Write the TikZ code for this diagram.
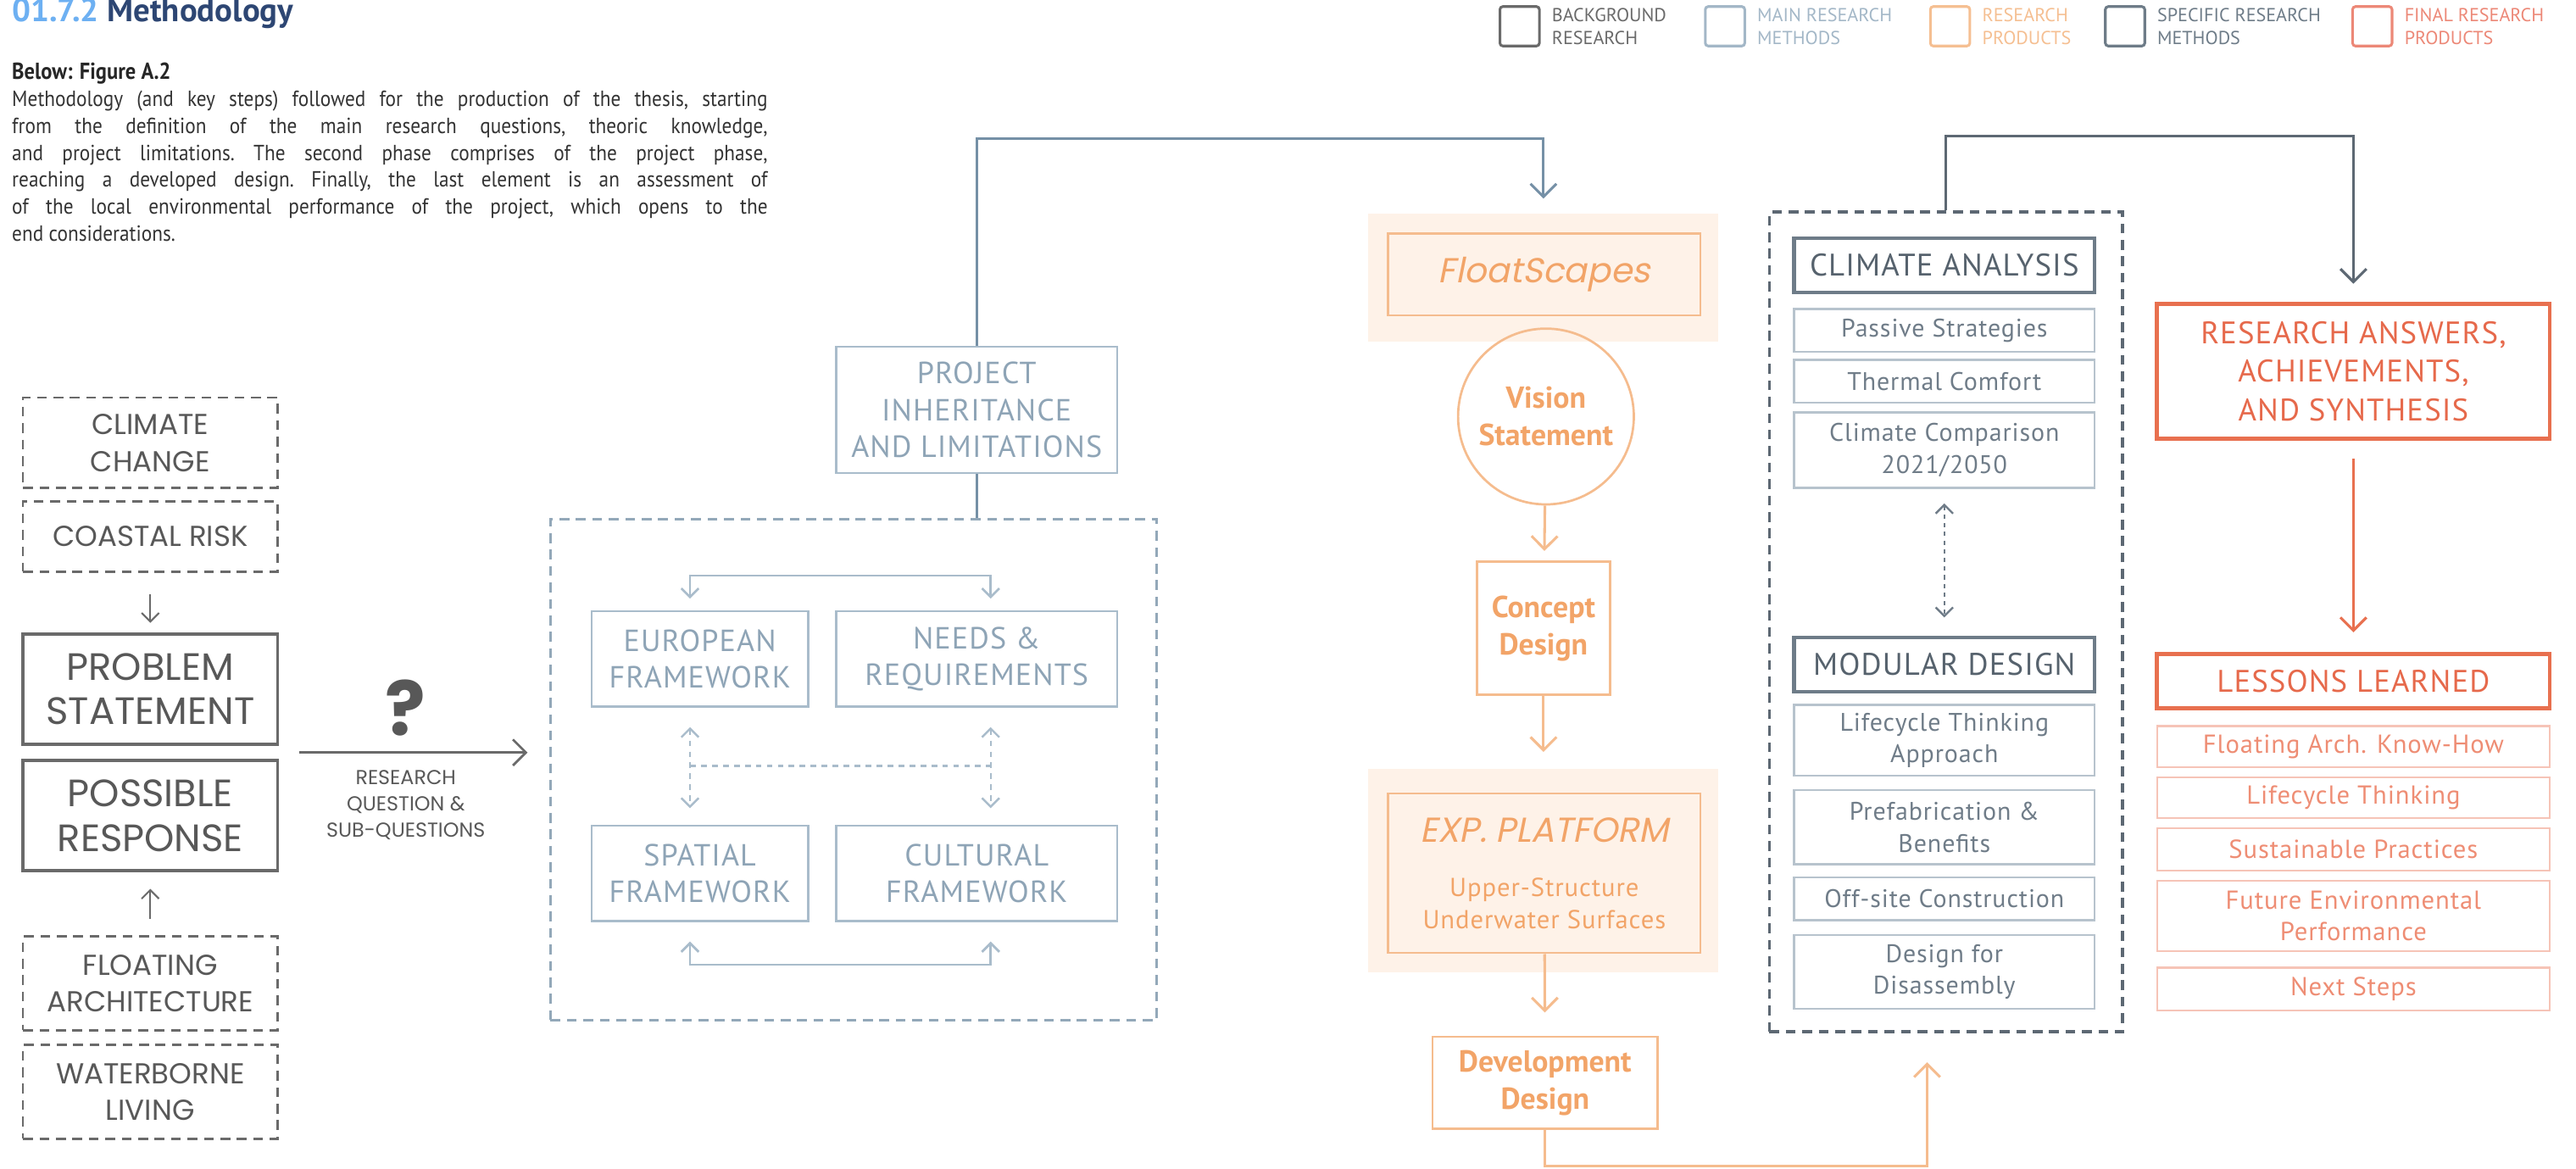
\documentclass[tikz,border=0pt]{standalone}
\usepackage{fontspec}
\setmainfont{PT Sans}
\newfontfamily\geo{Poppins}
\newfontfamily\geoit[FakeSlant=0.2]{Poppins}
\newfontfamily\din[LetterSpace=3]{PT Sans}
\newfontfamily\narrow[FakeStretch=0.9]{PT Sans}
\usetikzlibrary{arrows.meta,calc,positioning}

\definecolor{titlelight}{HTML}{6DB0F2}
\definecolor{titledark}{HTML}{2D4673}
\definecolor{bgline}{HTML}{6A6A6A}
\definecolor{bgtext}{HTML}{585858}
\definecolor{mmline}{HTML}{A9BCCB}
\definecolor{mmtext}{HTML}{8EA4B6}
\definecolor{mmdash}{HTML}{93A8B9}
\definecolor{mmconn}{HTML}{7590A6}
\definecolor{rpline}{HTML}{F5BC8E}
\definecolor{rptext}{HTML}{F2A468}
\definecolor{rpglow}{HTML}{FEF2E8}
\definecolor{srline}{HTML}{6E7C88}
\definecolor{srtext}{HTML}{56626D}
\definecolor{srsubline}{HTML}{B7C3CD}
\definecolor{srsubtext}{HTML}{6F7C88}
\definecolor{srdash}{HTML}{5D6873}
\definecolor{frline}{HTML}{E8704F}
\definecolor{frtext}{HTML}{E6694B}
\definecolor{frsubline}{HTML}{F6C4B7}
\definecolor{frsubtext}{HTML}{EE8D74}
\definecolor{legmm}{HTML}{A3B7C7}
\definecolor{legrp}{HTML}{F5BF92}
\definecolor{legfr}{HTML}{EC8877}

\begin{document}
\begin{tikzpicture}[x=0.02cm,y=-0.02cm,
        arr/.style={-{Straight Barb[length=4.5pt,width=9pt]}},
        sarr/.style={-{Straight Barb[length=3pt,width=6pt]}},
        dsarr/.style={{Straight Barb[length=3pt,width=6pt]}-{Straight Barb[length=3pt,width=6pt]}},
        legbox/.style={minimum width=24*\px,minimum height=24*\px,line width=0.9pt,rounded corners=1pt,inner sep=0pt},
        legtext/.style={inner sep=0pt,align=left,font=\fontsize{6.5}{8}\selectfont},
        bgdash/.style={draw=bgline,line width=0.8pt,dash pattern=on 3.4pt off 2.3pt,minimum width=155*\px,align=center,inner sep=0pt,text=bgtext,font=\geo\fontsize{10}{12.8}\selectfont},
        bgbox/.style={draw=bgline,line width=1.1pt,minimum width=155*\px,minimum height=67*\px,align=center,inner sep=0pt,text=bgtext,font=\geo\fontsize{13.2}{15.4}\selectfont},
        mmbox/.style={draw=mmline,line width=0.7pt,minimum height=58*\px,align=center,inner sep=0pt,text=mmtext,font=\din\fontsize{10.6}{12.7}\selectfont},
        rpbox/.style={draw=rpline,line width=0.8pt,align=center,inner sep=0pt,text=rptext},
        srhead/.style={draw=srline,line width=1.3pt,minimum width=183*\px,minimum height=33*\px,inner sep=0pt,text=srtext,font=\din\fontsize{10.8}{13}\selectfont},
        srsub/.style={draw=srsubline,line width=0.7pt,minimum width=183*\px,align=center,inner sep=0pt,text=srsubtext,font=\din\fontsize{8.8}{11}\selectfont},
        frhead/.style={draw=frline,line width=1.4pt,minimum width=239*\px,align=center,inner sep=0pt,text=frtext,font=\din\fontsize{10.8}{13.4}\selectfont},
        frsub/.style={draw=frsubline,line width=0.7pt,minimum width=239*\px,align=center,inner sep=0pt,text=frsubtext,font=\din\fontsize{9}{11}\selectfont}]
        \def\px{0.02cm}
        \useasboundingbox (0,0) rectangle (1568,711.5);

        \node[anchor=base west,inner sep=0pt,font=\bfseries\fontsize{11.4}{13}\selectfont] (title) at (7,13) {\textcolor{titlelight}{01.7.2} \textcolor{titledark}{Methodology}};
        \node[anchor=base west,inner sep=0pt,text=black!85,font=\bfseries\narrow\fontsize{8}{9}\selectfont] (figref) at (7,48) {Below: Figure A.2};
        \node[anchor=north west,inner sep=0pt,text width=9.2cm,align=justify,text=black!80,font=\narrow\fontsize{7.6}{9.3}\selectfont\frenchspacing] (caption) at (7,55) {Methodology (and key steps) followed for the production of the thesis, starting\linebreak from the definition of the main research questions, theoric knowledge,\linebreak and project limitations. The second phase comprises of the project phase,\linebreak reaching a developed design. Finally, the last element is an assessment of\linebreak of the local environmental performance of the project, which opens to the\linebreak end considerations.};

        \foreach \n/\x/\c/\tx in {bgr/925/bgline/{BACKGROUND\\RESEARCH},mrm/1050/legmm/{MAIN RESEARCH\\METHODS},rpr/1187/legrp/{RESEARCH\\PRODUCTS},srm/1293.5/srline/{SPECIFIC RESEARCH\\METHODS},frp/1444/legfr/{FINAL RESEARCH\\PRODUCTS}} {
          \node[legbox,draw=\c] (\n) at (\x,16) {};
          \node[legtext,text=\c,right=0.13cm of \n] (\n-l) {\tx};
        }

        \node[bgdash,minimum height=55*\px] (cc) at (91.5,269.5) {CLIMATE\\CHANGE};
        \node[bgdash,minimum height=43*\px] (cr) at (91.5,326.5) {COASTAL RISK};
        \node[bgbox] (ps) at (91.5,419.5) {PROBLEM\\STATEMENT};
        \node[bgbox] (pr) at (91.5,496.5) {POSSIBLE\\RESPONSE};
        \node[bgdash,minimum height=57*\px] (fa) at (91.5,598.5) {FLOATING\\ARCHITECTURE};
        \node[bgdash,minimum height=57*\px] (wl) at (91.5,664.5) {WATERBORNE\\LIVING};
        \draw[bgline,line width=0.6pt,sarr,shorten <=7.4pt,shorten >=3.4pt] (cr) -- (ps);
        \draw[bgline,line width=0.6pt,sarr,shorten <=5.7pt,shorten >=5.7pt] (fa) -- (pr);

        \node[draw=mmdash,line width=1pt,dash pattern=on 3.4pt off 2.3pt,minimum width=369*\px,minimum height=305*\px] (mm) at (519.5,468.5) {};
        \node[text=bgtext,font=\geo\bfseries\fontsize{26}{26}\selectfont] (qm) at (247,431) {?};
        \node[text=bgtext,align=center,font=\geo\fontsize{7}{9.1}\selectfont] (rq) at (247,490) {RESEARCH\\QUESTION \&\\SUB-QUESTIONS};
        \coordinate (rqa) at ($(ps.south east)!.5!(pr.north east)$);
        \draw[bgline,line width=0.8pt,arr,shorten <=6.8pt,shorten >=7.4pt] (rqa) -- (rqa -| mm.west);

        \node[mmbox,minimum width=171*\px,minimum height=77*\px] (pil) at (594.5,249.5) {PROJECT\\INHERITANCE\\AND LIMITATIONS};
        \node[mmbox,minimum width=132*\px] (ef) at (426,401) {EUROPEAN\\FRAMEWORK};
        \node[mmbox,minimum width=171*\px] (nr) at (594.5,401) {NEEDS \&\\REQUIREMENTS};
        \node[mmbox,minimum width=132*\px] (sf) at (426,531.5) {SPATIAL\\FRAMEWORK};
        \node[mmbox,minimum width=171*\px] (cf) at (594.5,531.5) {CULTURAL\\FRAMEWORK};
        \draw[mmconn,line width=0.9pt] (pil.south) -- (pil.south |- mm.north);
        \coordinate (topbar) at ($(ef.north)!.5!(nr.north)+(0,-21)$);
        \coordinate (botbar) at ($(sf.south)!.5!(cf.south)+(0,26)$);
        \coordinate (midbar) at ($(ef.south)!.5!(sf.north)+(-6,0)$);
        \draw[mmline,line width=0.8pt,sarr,shorten >=4pt] (topbar) -| ($(ef.north)+(-6,0)$);
        \draw[mmline,line width=0.8pt,sarr,shorten >=4pt] (topbar) -| ($(nr.north)+(8.5,0)$);
        \draw[mmline,line width=0.8pt,sarr,shorten >=6.8pt] (botbar) -| ($(sf.south)+(-6,0)$);
        \draw[mmline,line width=0.8pt,sarr,shorten >=6.8pt] (botbar) -| ($(cf.south)+(8.5,0)$);
        \draw[mmline,line width=0.7pt,dash pattern=on 2pt off 1.8pt,dsarr,shorten <=6.8pt,shorten >=5.7pt] ($(ef.south)+(-6,0)$) -- ($(sf.north)+(-6,0)$);
        \draw[mmline,line width=0.7pt,dash pattern=on 2pt off 1.8pt,dsarr,shorten <=6.8pt,shorten >=5.7pt] ($(nr.south)+(8.5,0)$) -- ($(cf.north)+(8.5,0)$);
        \draw[mmline,line width=0.7pt,dash pattern=on 2pt off 1.8pt] (midbar) -- ($(midbar -| cf.north)+(8.5,0)$);

        \node[fill=rpglow,minimum width=213*\px,minimum height=78*\px] (fsg) at (939.5,169) {};
        \node[rpbox,minimum width=190*\px,minimum height=50*\px,font=\geoit\fontsize{12}{14}\selectfont] (fs) at (940,167) {FloatScapes};
        \node[circle,draw=rpline,line width=0.8pt,minimum size=107*\px,inner sep=0pt,align=center,text=rptext,font=\bfseries\fontsize{10.5}{13}\selectfont] (vs) at (941,253.5) {Vision\\Statement};
        \node[rpbox,minimum width=81*\px,minimum height=81*\px,font=\bfseries\fontsize{10.5}{13}\selectfont] (cd) at (939.5,382.5) {Concept\\Design};
        \node[fill=rpglow,minimum width=213*\px,minimum height=124*\px] (epg) at (939.5,530) {};
        \node[rpbox,minimum width=190*\px,minimum height=97*\px,font=\din\fontsize{9}{11}\selectfont] (ep) at (940,531.5) {{\geoit\fontsize{12}{12}\selectfont EXP. PLATFORM}\\[7.8pt]Upper-Structure\\Underwater Surfaces};
        \node[rpbox,minimum width=137*\px,minimum height=56*\px,font=\bfseries\fontsize{10.5}{13}\selectfont] (dd) at (940.5,659) {Development\\Design};
        \draw[mmconn,line width=0.9pt,arr,shorten >=5pt] (pil.north) -- ++(0,-126) -| (fsg.north);
        \draw[rpline,line width=0.9pt,arr,shorten >=3.4pt] (vs) -- (cd);
        \draw[rpline,line width=0.9pt,arr,shorten >=5.7pt] (cd) -- (epg);
        \draw[rpline,line width=0.9pt,arr,shorten >=8pt] (ep) -- (dd);

        \node[draw=srdash,line width=1.1pt,dash pattern=on 3.4pt off 2.3pt,minimum width=215*\px,minimum height=499*\px] (sm) at (1184.5,378.5) {};
        \node[srhead] (ca) at (1183.5,161.5) {CLIMATE ANALYSIS};
        \foreach \n/\y/\h/\tx in {p1/201/26/Passive Strategies,p2/232/26/Thermal Comfort,p3/274/46/{Climate Comparison\\2021/2050}}
          \node[srsub,minimum height=\h*\px] (\n) at (1183.5,\y) {\tx};
        \node[srhead] (md) at (1183.5,404.5) {MODULAR DESIGN};
        \foreach \n/\y/\h/\tx in {q1/450.5/43/{Lifecycle Thinking\\Approach},q2/503.5/45/{Prefabrication \&\\Benefits},q3/547/26/Off-site Construction,q4/591.5/45/{Design for\\Disassembly}}
          \node[srsub,minimum height=\h*\px] (\n) at (1183.5,\y) {\tx};
        \draw[srsubtext,line width=0.7pt,dash pattern=on 1.5pt off 1.5pt,dsarr,shorten <=5pt,shorten >=6.3pt] (p3) -- (md);
        \draw[rpline,line width=0.9pt,arr,shorten >=10pt] (dd.south) -- ++(0,22) -| ($(sm.south)+(-11.5,0)$);

        \node[frhead,minimum height=82*\px] (ra) at (1432.5,226) {RESEARCH ANSWERS,\\ACHIEVEMENTS,\\AND SYNTHESIS};
        \node[frhead,minimum height=33*\px] (ll) at (1432.5,414.5) {LESSONS LEARNED};
        \foreach \n/\y/\h/\tx in {r1/454.5/25/Floating Arch. Know-How,r2/485.5/25/Lifecycle Thinking,r3/517/26/Sustainable Practices,r4/557.5/43/{Future Environmental\\Performance},r5/602/26/Next Steps}
          \node[frsub,minimum height=\h*\px] (\n) at (1432.5,\y) {\tx};
        \draw[srdash,line width=0.9pt,arr,shorten >=6.3pt] (sm.north) -- ++(0,-45) -| (ra.north);
        \draw[frline,line width=0.9pt,arr,shorten <=6.3pt,shorten >=6.8pt] (ra) -- (ll);
\end{tikzpicture}
\end{document}
